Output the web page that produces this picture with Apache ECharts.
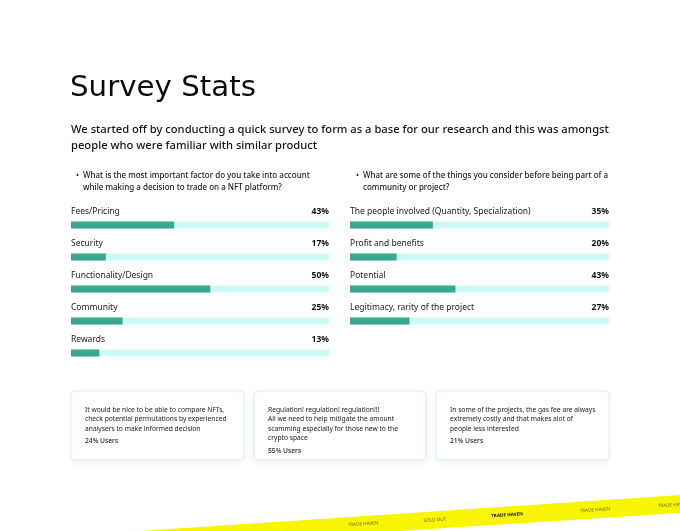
<!DOCTYPE html>
<html>
<head>
<meta charset="utf-8">
<script src="https://cdn.jsdelivr.net/npm/echarts@6/dist/echarts.min.js"></script>
<style>
  html, body { margin: 0; padding: 0; background: #fff; }
  #main { width: 680px; height: 531px; }
</style>
</head>
<body>
<div id="main"></div>
<script>
// question 1 (left column)
const leftCats = ['Fees/Pricing', 'Security', 'Functionality/Design', 'Community', 'Rewards'];
const leftPct = [43, 17, 50, 25, 13];
const leftFill = [40, 13.5, 54, 20, 11];   // bar lengths as drawn, % of track

// question 2 (right column)
const rightCats = ['The people involved (Quantity, Specialization)', 'Profit and benefits', 'Potential', 'Legitimacy, rarity of the project'];
const rightPct = [35, 20, 43, 27];
const rightFill = [32, 18, 40.7, 23];

// user comments
const cardLines = [
  ['It would be nice to be able to compare NFTs,', 'check potential permutations by experienced', 'analysers to make informed decision'],
  ['Regulation! regulation! regulation!!!', 'All we need to help mitigate the amount', 'scamming especially for those new to the', 'crypto space'],
  ['In some of the projects, the gas fee are always', 'extremely costly and that makes alot of', 'people less interested']
];
const cardUsers = ['24% Users', '55% Users', '21% Users'];

const TEAL = '#3aa891';
const TRACK = '#cdfbf3';
const FONT = '"Noto Sans", sans-serif';

function txt(x, y, s, font, fill, align) {
  return {
    type: 'text', x: x, y: y, silent: true,
    style: { text: s, font: font, fill: fill || '#111', textAlign: align || 'left', textVerticalAlign: 'middle' }
  };
}

const graphics = [];
graphics.push({
  type: 'text', x: 70, y: 88, silent: true, scaleX: 1.01,
  style: { text: 'Survey Stats', font: 'normal 29px "DejaVu Sans", sans-serif', fill: '#0c0c0c', textVerticalAlign: 'middle' }
});
graphics.push(txt(71, 130, 'We started off by conducting a quick survey to form as a base for our research and this was amongst', '500 11.2px ' + FONT, '#151515'));
graphics.push(txt(71, 146, 'people who were familiar with similar product', '500 11.2px ' + FONT, '#151515'));

graphics.push(txt(76, 176, '•', '8px ' + FONT, '#222'));
graphics.push(txt(83, 176, 'What is the most important factor do you take into account', '500 8px ' + FONT, '#222'));
graphics.push(txt(83, 188, 'while making a decision to trade on a NFT platform?', '500 8px ' + FONT, '#222'));
graphics.push(txt(356, 176, '•', '8px ' + FONT, '#222'));
graphics.push(txt(363, 176, 'What are some of the things you consider before being part of a', '500 8px ' + FONT, '#222'));
graphics.push(txt(363, 188, 'community or project?', '500 8px ' + FONT, '#222'));

// cards
const cardX = [71, 254, 436];
const cardW = [173, 172, 173];
cardX.forEach(function (cx, i) {
  graphics.push({
    type: 'rect', silent: true,
    shape: { x: cx, y: 391, width: cardW[i], height: 69, r: 4 },
    style: { fill: '#fff', stroke: '#d6f2ec', lineWidth: 1, shadowBlur: 8, shadowColor: 'rgba(0,0,0,0.06)', shadowOffsetY: 2 }
  });
  cardLines[i].forEach(function (l, j) {
    graphics.push(txt(cx + 14, 410 + j * 9.3, l, '6.7px ' + FONT, '#222'));
  });
  graphics.push(txt(cx + 14, 410 + cardLines[i].length * 9.3 + 3.5, cardUsers[i], '500 6.7px ' + FONT, '#222'));
});

// yellow ribbon
graphics.push({
  type: 'polygon', silent: true,
  shape: { points: [[140, 531], [680, 495], [680, 513], [399, 531]] },
  style: { fill: '#f9f500' }
});
const ribbon = [
  [275, 533, 'TRADE HAVEN', '#dad400'],
  [363, 524, 'TRADE HAVEN', '#6b6800'],
  [435, 520, 'SOLD OUT', '#6b6800'],
  [507, 515, 'TRADE HAVEN', '#111'],
  [595, 510, 'TRADE HAVEN', '#6b6800'],
  [673, 505, 'TRADE HAVEN', '#6b6800']
];
ribbon.forEach(function (r) {
  graphics.push({
    type: 'text', x: r[0], y: r[1], rotation: 0.064, silent: true,
    style: { text: r[2], font: (r[3] === '#111' ? 'bold ' : '') + '4.6px ' + FONT, fill: r[3], textAlign: 'center', textVerticalAlign: 'middle' }
  });
});

function yAxes(gi, cats, pct) {
  return [
    {
      type: 'category', gridIndex: gi, data: cats, inverse: true,
      axisLine: { show: false }, axisTick: { show: false },
      axisLabel: { inside: true, align: 'left', verticalAlign: 'bottom', padding: [0, 0, 9, 0], margin: 0, color: '#222', fontSize: 8.5, fontFamily: FONT }
    },
    {
      type: 'category', gridIndex: gi, position: 'right', data: pct.map(function (v) { return v + '%'; }), inverse: true,
      axisLine: { show: false }, axisTick: { show: false },
      axisLabel: { inside: true, align: 'right', verticalAlign: 'bottom', padding: [0, 0, 9, 0], margin: 0, color: '#111', fontSize: 8.5, fontWeight: 'bold', fontFamily: FONT }
    }
  ];
}

const chart = echarts.init(document.getElementById('main'), null, { renderer: 'canvas' });
chart.setOption({
  backgroundColor: '#fff',
  animation: false,
  grid: [
    { left: 71, width: 258, top: 209, height: 160 },
    { left: 350, width: 259, top: 209, height: 128 }
  ],
  xAxis: [
    { type: 'value', gridIndex: 0, min: 0, max: 100, show: false },
    { type: 'value', gridIndex: 1, min: 0, max: 100, show: false }
  ],
  yAxis: yAxes(0, leftCats, leftPct).concat(yAxes(1, rightCats, rightPct)),
  series: [
    {
      type: 'bar', xAxisIndex: 0, yAxisIndex: 0, data: leftFill, barWidth: 7,
      itemStyle: { color: TEAL }, showBackground: true, backgroundStyle: { color: TRACK }
    },
    {
      type: 'bar', xAxisIndex: 1, yAxisIndex: 2, data: rightFill, barWidth: 7,
      itemStyle: { color: TEAL }, showBackground: true, backgroundStyle: { color: TRACK }
    }
  ],
  graphic: graphics
});
</script>
</body>
</html>
